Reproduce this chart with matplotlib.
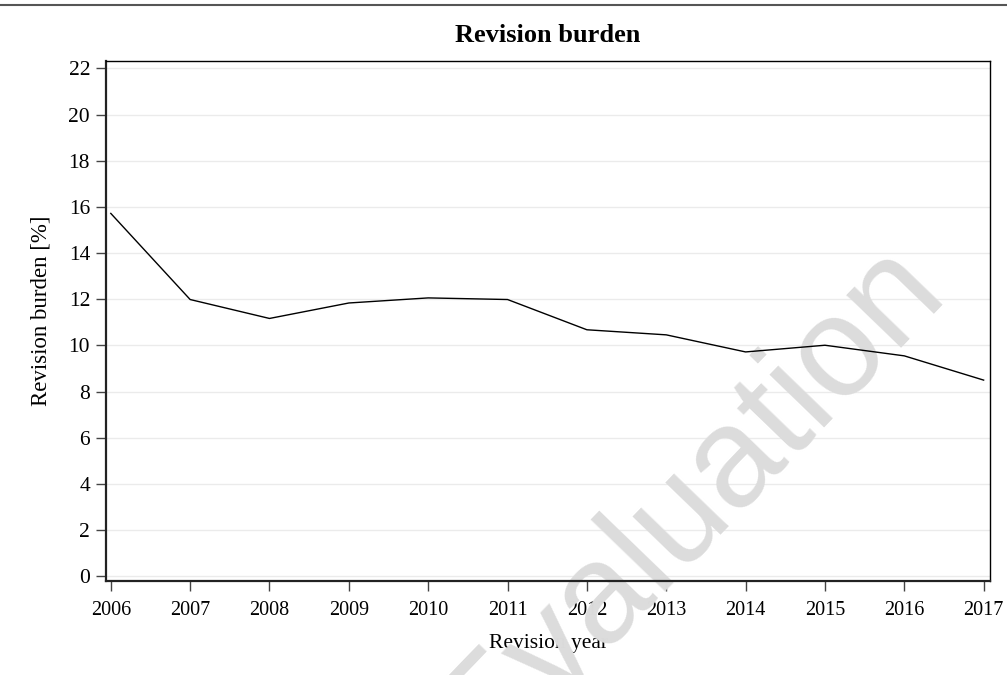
import matplotlib
matplotlib.use("Agg")
import matplotlib.pyplot as plt
from matplotlib.lines import Line2D


# =========================================================
# DATA
# =========================================================

years = [2006, 2007, 2008, 2009, 2010, 2011, 2012, 2013, 2014, 2015, 2016, 2017]
burden = [15.72, 11.99, 11.17, 11.84, 12.06, 11.99, 10.68, 10.46, 9.72, 10.01, 9.55, 8.50]

y_ticks = [0, 2, 4, 6, 8, 10, 12, 14, 16, 18, 20, 22]

title = "Revision burden"
x_label = "Revision year"
y_label = "Revision burden [%]"
watermark = "Evaluation"


# =========================================================
# PLOT
# =========================================================

plt.rcParams["font.family"] = ["Liberation Serif", "DejaVu Serif"]

fig = plt.figure(figsize=(10.07, 6.75), dpi=100)
ax = fig.add_axes([0.1053, 0.1393, 0.8778, 0.7703])

ax.plot(years, burden, color="black", linewidth=1.0, zorder=3)

ax.set_xlim(2005.94, 2017.08)
ax.set_ylim(-0.2, 22.32)
ax.set_xticks(years)
ax.set_yticks(y_ticks)

ax.grid(axis="y", color="#ebebeb", linewidth=1.0)
ax.set_axisbelow(True)

for side in ["left", "bottom"]:
    ax.spines[side].set_linewidth(1.6)
    ax.spines[side].set_color("#222222")
for side in ["top", "right"]:
    ax.spines[side].set_linewidth(1.0)
    ax.spines[side].set_color("black")

ax.tick_params(axis="both", direction="out", length=7.5, width=1.0,
               color="#444444", labelsize=14.5, pad=4)
ax.tick_params(axis="y", labelsize=15.5)
ax.tick_params(axis="x", pad=7)

ax.set_title(title, fontsize=19, fontweight="bold", pad=14)
ax.set_xlabel(x_label, fontsize=15.5, labelpad=10)
ax.set_ylabel(y_label, fontsize=16.5)
ax.yaxis.set_label_coords(-0.062, 0.52)

# watermark
ax.text(690 / 1007, 1 - 502 / 675, watermark, transform=fig.transFigure,
        fontsize=102, family="Liberation Sans", color="#dcdcdc",
        rotation=46, rotation_mode="anchor", ha="center", va="center",
        zorder=2, clip_on=False)

# rule at top of page
fig.add_artist(Line2D([0, 1], [1 - 5 / 675, 1 - 5 / 675],
                      transform=fig.transFigure, color="#555555", linewidth=1.5))

fig.savefig("out.png", dpi=100)
